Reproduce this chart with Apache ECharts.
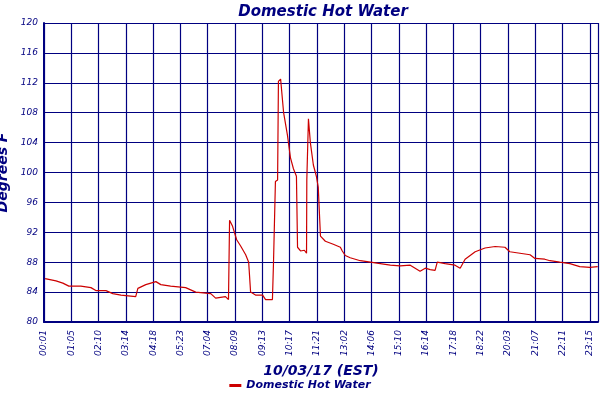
<!DOCTYPE html>
<html><head><meta charset="utf-8">
<script src="https://cdn.jsdelivr.net/npm/echarts@6/dist/echarts.min.js"></script>
<style>html,body{margin:0;padding:0;background:#fff}#c{width:600px;height:400px}</style>
</head><body><div id="c"></div>
<script>
var xLabels = ['00:01','01:05','02:10','03:14','04:18','05:23','07:04','08:09','09:13','10:17','11:21','13:02','14:06','15:10','16:14','17:18','18:22','20:03','21:07','22:11','23:15','23:21'];
var xLabelPos = [0,1,2,3,4,5,6,7,8,9,10,11,12,13,14,15,16,17,18,19,20,20.2];
var xPos = [0.04,0.44,0.69,0.91,1.35,1.72,1.90,2.27,2.52,2.82,3.36,3.44,3.73,4.10,4.28,4.64,5.19,5.56,6.11,6.29,6.65,6.76,6.80,6.91,7.06,7.20,7.39,7.50,7.57,7.75,8.01,8.12,8.37,8.41,8.48,8.56,8.59,8.67,8.78,8.92,9.03,9.14,9.25,9.29,9.40,9.54,9.62,9.63,9.69,9.76,9.87,9.98,10.05,10.13,10.31,10.60,10.86,10.93,11.04,11.22,11.59,11.96,12.32,12.69,13.05,13.42,13.60,13.78,13.97,14.15,14.33,14.41,14.70,15.06,15.25,15.43,15.80,16.16,16.53,16.89,17.07,17.44,17.81,17.99,18.35,18.54,18.90,19.27,19.63,20.00,20.29];
var temps = [85.8,85.5,85.2,84.8,84.8,84.6,84.2,84.2,83.8,83.6,83.4,84.5,85.0,85.4,85.0,84.8,84.6,84.0,83.8,83.2,83.4,83.0,93.6,92.8,91.0,90.2,89.0,88.0,84.0,83.6,83.6,83.0,83.0,88.0,98.8,99.0,112.2,112.5,108.0,105.0,102.0,100.5,99.5,90.0,89.5,89.6,89.2,99.0,107.2,104.0,101.0,99.5,98.0,91.5,90.8,90.4,90.0,89.5,88.9,88.6,88.2,88.0,87.8,87.6,87.5,87.6,87.2,86.8,87.2,87.0,86.9,88.0,87.8,87.6,87.2,88.4,89.4,89.9,90.1,90.0,89.4,89.2,89.0,88.5,88.4,88.2,88.0,87.8,87.4,87.3,87.4];
var yMin = 80, yMax = 120, yStep = 4;
var navy = '#000080', font = 'DejaVu Sans';
var data = xPos.map(function(x,i){return [x,temps[i]];});
var ch = echarts.init(document.getElementById('c'));
ch.setOption({
  animation:false,
  title:{text:'Domestic Hot Water',left:318,textAlign:'center',top:0,textStyle:{color:navy,fontFamily:font,fontStyle:'italic',fontWeight:'bold',fontSize:15}},
  legend:{bottom:4,left:'center',itemWidth:12,itemHeight:3,icon:'rect',textStyle:{color:navy,fontFamily:font,fontStyle:'italic',fontWeight:'bold',fontSize:11}},
  grid:{left:44,right:2,top:23,bottom:78,containLabel:false,outerBoundsMode:'none'},
  xAxis:{type:'value',min:0,max:20.3,interval:1,name:'10/03/17 (EST)',nameLocation:'middle',nameGap:42,
    nameTextStyle:{color:navy,fontFamily:font,fontStyle:'italic',fontWeight:'bold',fontSize:14},
    axisLine:{lineStyle:{color:navy,width:2}},axisTick:{show:false},
    axisLabel:{customValues:xLabelPos,hideOverlap:false,rotate:90,color:navy,fontFamily:font,fontStyle:'italic',fontSize:9,
      formatter:function(v){var i=xLabelPos.findIndex(function(p){return Math.abs(p-v)<1e-6;});return i>=0?xLabels[i]:'';}},
    splitLine:{show:true,lineStyle:{color:navy,width:1.2}}},
  yAxis:{type:'value',min:yMin,max:yMax,interval:yStep,name:'Degrees F',nameLocation:'middle',nameGap:28,
    nameTextStyle:{color:navy,fontFamily:font,fontStyle:'italic',fontWeight:'bold',fontSize:14},
    axisLine:{show:true,lineStyle:{color:navy,width:2}},axisTick:{show:false},
    axisLabel:{color:navy,fontFamily:font,fontStyle:'italic',fontSize:9,margin:6},
    splitLine:{show:true,lineStyle:{color:navy,width:1.2}}},
  series:[{name:'Domestic Hot Water',type:'line',data:data,showSymbol:false,symbol:'none',lineStyle:{color:'#cc0000',width:1.2},itemStyle:{color:'#cc0000'}}]
});
</script></body></html>
